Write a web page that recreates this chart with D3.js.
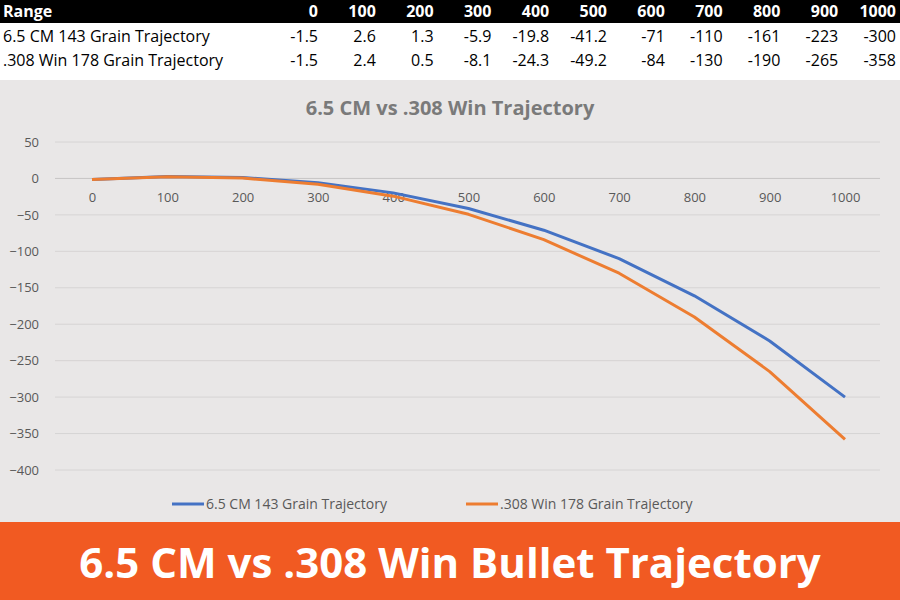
<!DOCTYPE html>
<html><head><meta charset="utf-8">
<script src="https://cdn.jsdelivr.net/npm/d3@7"></script>
<style>body{margin:0;background:#fff}svg{display:block}</style>
</head><body>
<svg id="c" width="900" height="600"></svg>
<script>
var ranges = [0,100,200,300,400,500,600,700,800,900,1000]
var cm65 = [-1.5,2.6,1.3,-5.9,-19.8,-41.2,-71,-110,-161,-223,-300]
var win308 = [-1.5,2.4,0.5,-8.1,-24.3,-49.2,-84,-130,-190,-265,-358]
var cm65Labels = ["-1.5","2.6","1.3","-5.9","-19.8","-41.2","-71","-110","-161","-223","-300"]
var win308Labels = ["-1.5","2.4","0.5","-8.1","-24.3","-49.2","-84","-130","-190","-265","-358"]
var seriesNames = ["6.5 CM 143 Grain Trajectory", ".308 Win 178 Grain Trajectory"]
var yTicks = [50,0,-50,-100,-150,-200,-250,-300,-350,-400]
var font = "'Open Sans', sans-serif"

var svg = d3.select("#c")

// table
svg.append("rect").attr("x",0).attr("y",0).attr("width",900).attr("height",23).attr("fill","#000")
var colX = d3.scalePoint().domain(ranges).range([318,896])
var rows = [
  {y:17, label:"Range", vals:ranges.map(String), fill:"#fff", weight:"bold"},
  {y:42, label:seriesNames[0], vals:cm65Labels, fill:"#000", weight:"normal"},
  {y:66, label:seriesNames[1], vals:win308Labels, fill:"#000", weight:"normal"}
]
rows.forEach(function(r){
  svg.append("text").attr("x",3).attr("y",r.y).text(r.label)
    .attr("font-family",font).attr("font-size",16).attr("font-weight",r.weight).attr("fill",r.fill)
  svg.selectAll(null).data(ranges).enter().append("text")
    .attr("x",function(d){return colX(d)}).attr("y",r.y)
    .attr("text-anchor","end").text(function(d,i){return r.vals[i]})
    .attr("font-family",font).attr("font-size",16).attr("font-weight",r.weight).attr("fill",r.fill)
})

// chart area
svg.append("rect").attr("x",0).attr("y",80).attr("width",900).attr("height",442).attr("fill","#e9e7e7")
svg.append("text").attr("x",450).attr("y",115).attr("text-anchor","middle")
  .attr("font-family",font).attr("font-size",20).attr("font-weight","bold").attr("fill","#7a7a7a")
  .text("6.5 CM vs .308 Win Trajectory")

var x = d3.scaleLinear().domain([0,1000]).range([92,845])
var y = d3.scaleLinear().domain([-400,50]).range([470,142])

svg.append("g").selectAll("line").data(yTicks).enter().append("line")
  .attr("x1",55).attr("x2",880).attr("y1",function(d){return y(d)}).attr("y2",function(d){return y(d)})
  .attr("stroke","#d6d4d4").attr("stroke-width",1)

var ya = svg.append("g").attr("transform","translate(55,0)")
  .call(d3.axisLeft(y).tickValues(yTicks).tickSize(0).tickPadding(16))
ya.select(".domain").remove()
ya.selectAll("text").attr("font-family",font).attr("font-size",13).attr("fill","#595959")

var xa = svg.append("g").attr("transform","translate(0,"+y(0)+")")
  .call(d3.axisBottom(x).tickValues(ranges).tickSize(0).tickPadding(14).tickFormat(d3.format("d")))
xa.select(".domain").attr("stroke","#c8c6c6").attr("d","M55,0H880")
xa.selectAll("text").attr("font-family",font).attr("font-size",13).attr("fill","#595959")

var line = d3.line().x(function(d,i){return x(ranges[i])}).y(function(d){return y(d)})
var colors = ["#4472c4","#ed7d31"]
;[cm65, win308].forEach(function(s,k){
  svg.append("path").datum(s).attr("d",line).attr("fill","none")
    .attr("stroke",colors[k]).attr("stroke-width",3).attr("stroke-linejoin","round")
})

// legend
var lx = [172, 466]
seriesNames.forEach(function(n,k){
  svg.append("line").attr("x1",lx[k]).attr("x2",lx[k]+32).attr("y1",504).attr("y2",504)
    .attr("stroke",colors[k]).attr("stroke-width",3)
  svg.append("text").attr("x",lx[k]+34).attr("y",509).text(n)
    .attr("font-family",font).attr("font-size",14).attr("fill","#595959")
})

// banner
svg.append("rect").attr("x",0).attr("y",522).attr("width",900).attr("height",78).attr("fill","#f15a22")
svg.append("text").attr("x",450).attr("y",578).attr("text-anchor","middle")
  .attr("font-family",font).attr("font-size",42).attr("font-weight","bold").attr("fill","#fff")
  .text("6.5 CM vs .308 Win Bullet Trajectory")
</script>
</body></html>
